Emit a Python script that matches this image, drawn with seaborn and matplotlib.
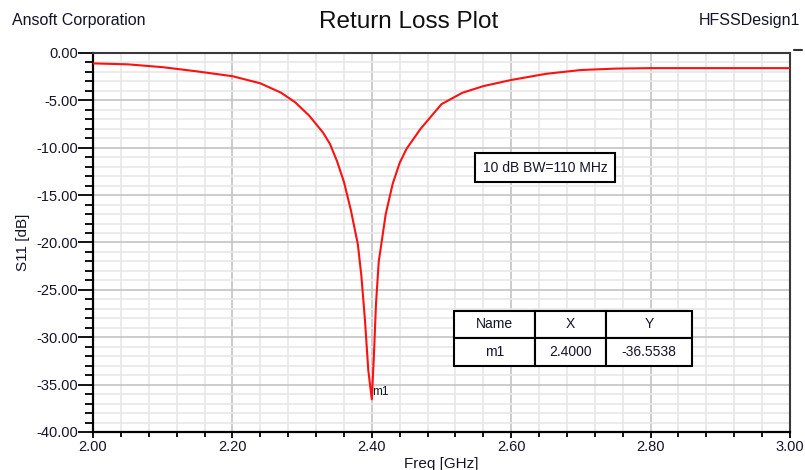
import numpy as np
import pandas as pd
import seaborn as sns
import matplotlib.pyplot as plt
from matplotlib.ticker import MultipleLocator, FormatStrFormatter

# S11 curve
freq_ghz = [2.00, 2.05, 2.10, 2.15, 2.20, 2.24, 2.27, 2.29, 2.31, 2.33,
            2.34, 2.35, 2.36, 2.37, 2.38, 2.385, 2.39, 2.395, 2.40, 2.403,
            2.406, 2.41, 2.42, 2.43, 2.44, 2.45, 2.47, 2.50, 2.53, 2.56,
            2.60, 2.65, 2.70, 2.75, 2.80, 2.90, 3.00]
s11_db = [-1.1, -1.2, -1.5, -1.95, -2.45, -3.2, -4.2, -5.2, -6.6, -8.4,
          -9.6, -11.4, -13.6, -16.6, -20.2, -23.5, -28.0, -33.5, -36.55, -32.0,
          -26.5, -22.0, -17.0, -13.8, -11.6, -10.1, -8.0, -5.4, -4.2, -3.5,
          -2.85, -2.2, -1.8, -1.65, -1.6, -1.6, -1.6]

marker_cols = ["Name", "X", "Y"]
marker_row = ["m1", "2.4000", "-36.5538"]
marker_x = 2.40
marker_y = -36.5538
bw_note = "10 dB BW=110 MHz"

df = pd.DataFrame({"freq": freq_ghz, "s11": s11_db})

sns.set_theme(style="white")
plt.rcParams['font.family'] = ['Liberation Sans', 'DejaVu Sans']
txt = '#141428'

fig = plt.figure(figsize=(8.05, 4.7), dpi=100)
ax = fig.add_axes([0.1155, 0.0809, 0.8659, 0.8064])

sns.lineplot(data=df, x="freq", y="s11", color="#ff1010", linewidth=1.5,
             sort=False, ax=ax, zorder=3)

ax.set_xlim(2.0, 3.0)
ax.set_ylim(-40, 0)
ax.xaxis.set_major_locator(MultipleLocator(0.2))
ax.xaxis.set_minor_locator(MultipleLocator(0.04))
ax.yaxis.set_major_locator(MultipleLocator(5))
ax.yaxis.set_minor_locator(MultipleLocator(1))
ax.xaxis.set_major_formatter(FormatStrFormatter('%.2f'))
ax.yaxis.set_major_formatter(FormatStrFormatter('%.2f'))

ax.grid(which='major', color='#c4c4c4', linewidth=1.2, zorder=0)
ax.grid(which='minor', color='#e8e8e8', linewidth=1.2, zorder=0)
ax.set_axisbelow(True)

for side in ['left', 'bottom']:
    ax.spines[side].set_color('black')
    ax.spines[side].set_linewidth(1.6)
for side in ['top', 'right']:
    ax.spines[side].set_color('#3a3a3a')
    ax.spines[side].set_linewidth(1.5)

ax.tick_params(axis='y', which='major', direction='out', length=11, width=1.3,
               color='black', pad=0, labelsize=10.5, labelcolor=txt, left=True)
ax.tick_params(axis='y', which='minor', direction='out', length=6, width=1.3,
               color='black', left=True)
ax.tick_params(axis='x', which='major', direction='out', length=4, width=1.3,
               color='black', pad=2, labelsize=10.5, labelcolor=txt, bottom=True)
ax.tick_params(axis='x', which='minor', direction='out', length=3.5, width=1.3,
               color='black', bottom=True)

ax.set_xlabel("Freq [GHz]", fontsize=11, color=txt, labelpad=2)
ax.set_ylabel("S11 [dB]", fontsize=11, color=txt, labelpad=4)

# header texts
fig.text(0.508, 0.953, "Return Loss Plot", fontsize=17.5, color='#101010',
         ha='center', va='center')
fig.text(0.015, 0.957, "Ansoft Corporation", fontsize=11.5, color=txt,
         ha='left', va='center')
fig.text(0.994, 0.957, "HFSSDesign1", fontsize=11.5, color=txt,
         ha='right', va='center')

# small mark at top right
ax.plot([1.005, 1.017], [1.008, 1.008], transform=ax.transAxes,
        clip_on=False, color='#303030', lw=1.5)

# marker label
ax.text(marker_x, marker_y + 0.8, "m1", fontsize=8.5, color=txt,
        ha='left', va='center', zorder=4)

# bandwidth note
ax.text(0.649, 0.697, bw_note, transform=ax.transAxes, fontsize=10,
        color=txt, ha='center', va='center', zorder=4,
        bbox=dict(boxstyle='square,pad=0.55', facecolor='white',
                  edgecolor='black', linewidth=1.5))

# marker table
tbl = ax.table(cellText=[marker_row], colLabels=marker_cols,
               cellLoc='center', colWidths=[0.34, 0.30, 0.36],
               bbox=[0.518, 0.175, 0.341, 0.145], zorder=4)
tbl.auto_set_font_size(False)
for (r, c), cell in tbl.get_celld().items():
    cell.set_edgecolor('black')
    cell.set_linewidth(1.5)
    cell.set_facecolor('white')
    cell.get_text().set_fontsize(10)
    cell.get_text().set_color(txt)

fig.savefig("out.png", dpi=100)
